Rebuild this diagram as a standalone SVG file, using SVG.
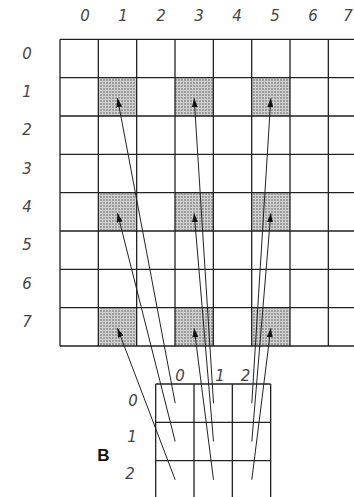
<svg xmlns="http://www.w3.org/2000/svg" width="354" height="497" viewBox="0 0 354 497">
<style>
.lbl{font-family:"DejaVu Sans",sans-serif;font-style:italic;font-size:15px;fill:#444;text-anchor:middle}
.grid{fill:none;stroke:#222;stroke-width:1.3}
.shade{fill:url(#dots)}
.conn{stroke:#222;stroke-width:1;fill:none;marker-end:url(#ah)}
.b{font-family:"Liberation Sans",sans-serif;font-weight:bold;font-size:17px;fill:#111;text-anchor:middle}
</style>
<defs>
<pattern id="dots" width="3" height="3" patternUnits="userSpaceOnUse">
<rect width="3" height="3" fill="#9c9c9c"/>
<rect x="0" y="0" width="3" height="1" fill="#d0d0d0"/>
<rect x="0" y="0" width="1" height="3" fill="#d0d0d0"/>
</pattern>
<marker id="ah" markerUnits="userSpaceOnUse" markerWidth="9" markerHeight="6" refX="9" refY="3" orient="auto">
<path d="M0,0 L9,3 L0,6 z" fill="#111"/>
</marker>
</defs>
<rect width="354" height="497" fill="#fff"/>
<g id="labelsA">
<text class="lbl" x="85" y="20.5">0</text>
<text class="lbl" x="123" y="20.5">1</text>
<text class="lbl" x="161" y="20.5">2</text>
<text class="lbl" x="199" y="20.5">3</text>
<text class="lbl" x="237" y="20.5">4</text>
<text class="lbl" x="275" y="20.5">5</text>
<text class="lbl" x="313" y="20.5">6</text>
<text class="lbl" x="348" y="20.5">7</text>
<text class="lbl" x="27" y="58.5">0</text>
<text class="lbl" x="27" y="96.8">1</text>
<text class="lbl" x="27" y="135.2">2</text>
<text class="lbl" x="27" y="173.5">3</text>
<text class="lbl" x="27" y="211.8">4</text>
<text class="lbl" x="27" y="250.2">5</text>
<text class="lbl" x="27" y="288.5">6</text>
<text class="lbl" x="27" y="326.8">7</text>
</g>
<g id="gridA">
<rect class="shade" x="98.33" y="77.67" width="38.33" height="38.33"/>
<rect class="shade" x="175" y="77.67" width="38.33" height="38.33"/>
<rect class="shade" x="251.67" y="77.67" width="38.33" height="38.33"/>
<rect class="shade" x="98.33" y="192.67" width="38.33" height="38.33"/>
<rect class="shade" x="175" y="192.67" width="38.33" height="38.33"/>
<rect class="shade" x="251.67" y="192.67" width="38.33" height="38.33"/>
<rect class="shade" x="98.33" y="307.67" width="38.33" height="38.33"/>
<rect class="shade" x="175" y="307.67" width="38.33" height="38.33"/>
<rect class="shade" x="251.67" y="307.67" width="38.33" height="38.33"/>
<path class="grid" d="M60,39.33H366.67M60,77.67H366.67M60,116H366.67M60,154.33H366.67M60,192.67H366.67M60,231H366.67M60,269.33H366.67M60,307.67H366.67M60,346H366.67M60,39.33V346M98.33,39.33V346M136.67,39.33V346M175,39.33V346M213.33,39.33V346M251.67,39.33V346M290,39.33V346M328.33,39.33V346M366.67,39.33V346"/>
</g>
<g id="gridB">
<path class="grid" d="M155.67,384H270.67M155.67,422.33H270.67M155.67,460.67H270.67M155.67,499H270.67M155.67,384V499M194,384V499M232.33,384V499M270.67,384V499"/>
<text class="lbl" x="180" y="380.5">0</text>
<text class="lbl" x="220" y="380.5">1</text>
<text class="lbl" x="245.5" y="380.5">2</text>
<text class="lbl" x="133" y="405.5">0</text>
<text class="lbl" x="132" y="441.5">1</text>
<text class="lbl" x="130" y="478.5">2</text>
<text class="b" x="103.5" y="461">B</text>
</g>
<g id="connectors">
<line class="conn" x1="175.2" y1="403.2" x2="117.5" y2="98.3"/>
<line class="conn" x1="175.2" y1="441.5" x2="117.5" y2="213.3"/>
<line class="conn" x1="175.2" y1="479.8" x2="117.5" y2="328.3"/>
<line class="conn" x1="213.5" y1="403.2" x2="194.2" y2="98.3"/>
<line class="conn" x1="213.5" y1="441.5" x2="194.2" y2="213.3"/>
<line class="conn" x1="213.5" y1="479.8" x2="194.2" y2="328.3"/>
<line class="conn" x1="251.8" y1="403.2" x2="270.8" y2="98.3"/>
<line class="conn" x1="251.8" y1="441.5" x2="270.8" y2="213.3"/>
<line class="conn" x1="251.8" y1="479.8" x2="270.8" y2="328.3"/>
</g>
</svg>
